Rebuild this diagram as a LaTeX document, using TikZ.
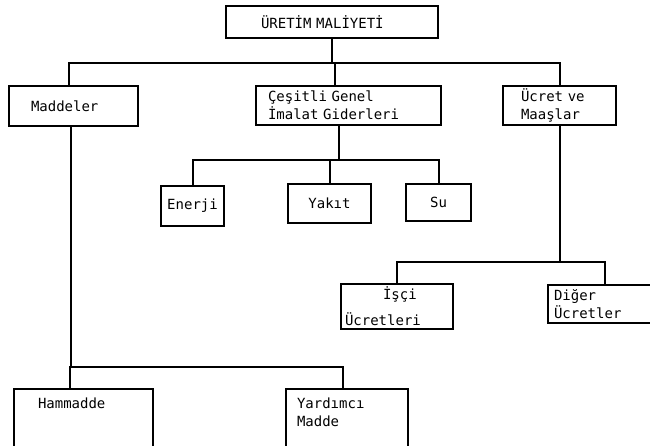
\documentclass[tikz,border=0pt]{standalone}
\usepackage{fontspec}
\setmonofont{DejaVu Sans Mono}
\usetikzlibrary{positioning}
\usetikzlibrary{calc}

\begin{document}
\begin{tikzpicture}[x=1pt, y=-1pt,
                costbox/.style={rectangle, draw=black, line width=2pt, anchor=north west, align=left, inner ysep=2pt, font=\ttfamily\fontsize{14}{18}\selectfont},
                smallbox/.style={costbox, align=center, inner xsep=4pt},
                connline/.style={draw=black, line width=2pt},
                ]
                \clip (0,0) rectangle (650,445);
                \fill[white] (0,0) rectangle (650,445);

                \node[costbox, inner xsep=35pt, text width=142pt, minimum height=32pt] (uretim) at (225,5) {ÜRETİM MALİYETİ};
                \node[costbox, inner xsep=22pt, text width=85pt, minimum height=40pt] (madde) at (8,85) {Maddeler};
                \node[costbox, inner xsep=12pt, text width=161pt, minimum height=39pt] (genel) at (255,85) {Çeşitli Genel\\İmalat Giderleri};
                \node[costbox, inner xsep=18pt, text width=77pt, minimum height=39pt] (ucret) at (502,85) {Ücret ve\\Maaşlar};

                \node[smallbox, minimum width=63pt, minimum height=40pt] (enerji) at (160,185) {Enerji};
                \node[smallbox, minimum width=83pt, minimum height=39pt] (yakit) at (287,183) {Yakıt};
                \node[smallbox, minimum width=65pt, minimum height=37pt] (su) at (405,183) {Su};

                \node[costbox, inner xsep=4pt, text width=104pt, minimum height=45pt] (isci) at (340,283) {\hspace*{38pt}İşçi\\[8pt]Ücretleri};
                \node[costbox, inner xsep=6pt, text width=101pt, minimum height=38pt] (diger) at (547,284) {Diğer\\Ücretler};

                \node[costbox, inner xsep=24pt, inner ysep=9pt, text width=91pt, text depth=50pt] (ham) at (13,388) {Hammadde};
                \node[costbox, inner xsep=11pt, inner ysep=9pt, text width=100pt, text depth=50pt] (yardimci) at (285,388) {Yardımcı\\Madde};

                \coordinate (busa) at (0,63);
                \coordinate (busb) at (0,160);
                \coordinate (busc) at (0,262);
                \coordinate (busd) at (0,367);

                \draw[connline] (uretim.south) -- (uretim.south |- busa);
                \draw[connline] ([xshift=-5pt]madde.north) -- ([xshift=-5pt]madde.north |- busa) -- (ucret.north |- busa) -- (ucret.north);
                \draw[connline] ([xshift=-14pt]genel.north) -- ([xshift=-14pt]genel.north |- busa);

                \draw[connline] ([xshift=-10pt]genel.south) -- ([xshift=-10pt]genel.south |- busb);
                \draw[connline] (enerji.north) -- (enerji.north |- busb) -- (su.north |- busb) -- (su.north);
                \draw[connline] (yakit.north) -- (yakit.north |- busb);

                \draw[connline] (ucret.south) -- (ucret.south |- busc);
                \draw[connline] (isci.north) -- (isci.north |- busc) -- (diger.north |- busc) -- (diger.north);

                \draw[connline] ([xshift=-3pt]madde.south) -- ([xshift=-3pt]madde.south |- busd);
                \draw[connline] ([xshift=-14pt]ham.north) -- ([xshift=-14pt]ham.north |- busd) -- ([xshift=-4pt]yardimci.north |- busd) -- ([xshift=-4pt]yardimci.north);
            \end{tikzpicture}
\end{document}
